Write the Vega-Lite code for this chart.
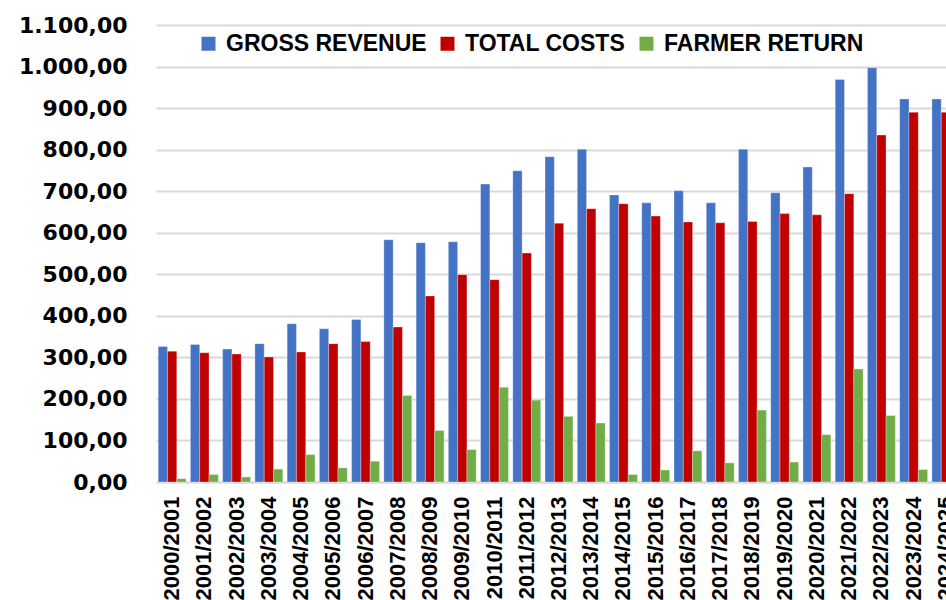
{
  "$schema": "https://vega.github.io/schema/vega-lite/v6.json",
  "autosize": {"type": "none"},
  "padding": {"left": 156, "top": 25, "right": 0, "bottom": 118},
  "width": 806,
  "height": 457,
  "background": "white",
  "data": {
    "values": [
      {"season": "2000/2001", "series": "GROSS REVENUE", "value": 326},
      {"season": "2000/2001", "series": "TOTAL COSTS", "value": 315},
      {"season": "2000/2001", "series": "FARMER RETURN", "value": 8},
      {"season": "2001/2002", "series": "GROSS REVENUE", "value": 331},
      {"season": "2001/2002", "series": "TOTAL COSTS", "value": 311},
      {"season": "2001/2002", "series": "FARMER RETURN", "value": 18},
      {"season": "2002/2003", "series": "GROSS REVENUE", "value": 320},
      {"season": "2002/2003", "series": "TOTAL COSTS", "value": 308},
      {"season": "2002/2003", "series": "FARMER RETURN", "value": 12},
      {"season": "2003/2004", "series": "GROSS REVENUE", "value": 333},
      {"season": "2003/2004", "series": "TOTAL COSTS", "value": 301},
      {"season": "2003/2004", "series": "FARMER RETURN", "value": 31},
      {"season": "2004/2005", "series": "GROSS REVENUE", "value": 381},
      {"season": "2004/2005", "series": "TOTAL COSTS", "value": 313},
      {"season": "2004/2005", "series": "FARMER RETURN", "value": 66},
      {"season": "2005/2006", "series": "GROSS REVENUE", "value": 369},
      {"season": "2005/2006", "series": "TOTAL COSTS", "value": 333},
      {"season": "2005/2006", "series": "FARMER RETURN", "value": 34},
      {"season": "2006/2007", "series": "GROSS REVENUE", "value": 391},
      {"season": "2006/2007", "series": "TOTAL COSTS", "value": 338},
      {"season": "2006/2007", "series": "FARMER RETURN", "value": 50},
      {"season": "2007/2008", "series": "GROSS REVENUE", "value": 583},
      {"season": "2007/2008", "series": "TOTAL COSTS", "value": 373},
      {"season": "2007/2008", "series": "FARMER RETURN", "value": 208},
      {"season": "2008/2009", "series": "GROSS REVENUE", "value": 576},
      {"season": "2008/2009", "series": "TOTAL COSTS", "value": 448},
      {"season": "2008/2009", "series": "FARMER RETURN", "value": 124},
      {"season": "2009/2010", "series": "GROSS REVENUE", "value": 578},
      {"season": "2009/2010", "series": "TOTAL COSTS", "value": 499},
      {"season": "2009/2010", "series": "FARMER RETURN", "value": 78},
      {"season": "2010/2011", "series": "GROSS REVENUE", "value": 717},
      {"season": "2010/2011", "series": "TOTAL COSTS", "value": 487},
      {"season": "2010/2011", "series": "FARMER RETURN", "value": 228},
      {"season": "2011/2012", "series": "GROSS REVENUE", "value": 749},
      {"season": "2011/2012", "series": "TOTAL COSTS", "value": 551},
      {"season": "2011/2012", "series": "FARMER RETURN", "value": 197},
      {"season": "2012/2013", "series": "GROSS REVENUE", "value": 783},
      {"season": "2012/2013", "series": "TOTAL COSTS", "value": 623},
      {"season": "2012/2013", "series": "FARMER RETURN", "value": 158},
      {"season": "2013/2014", "series": "GROSS REVENUE", "value": 801},
      {"season": "2013/2014", "series": "TOTAL COSTS", "value": 658},
      {"season": "2013/2014", "series": "FARMER RETURN", "value": 142},
      {"season": "2014/2015", "series": "GROSS REVENUE", "value": 691},
      {"season": "2014/2015", "series": "TOTAL COSTS", "value": 670},
      {"season": "2014/2015", "series": "FARMER RETURN", "value": 18},
      {"season": "2015/2016", "series": "GROSS REVENUE", "value": 672},
      {"season": "2015/2016", "series": "TOTAL COSTS", "value": 640},
      {"season": "2015/2016", "series": "FARMER RETURN", "value": 29},
      {"season": "2016/2017", "series": "GROSS REVENUE", "value": 701},
      {"season": "2016/2017", "series": "TOTAL COSTS", "value": 626},
      {"season": "2016/2017", "series": "FARMER RETURN", "value": 75},
      {"season": "2017/2018", "series": "GROSS REVENUE", "value": 672},
      {"season": "2017/2018", "series": "TOTAL COSTS", "value": 624},
      {"season": "2017/2018", "series": "FARMER RETURN", "value": 46},
      {"season": "2018/2019", "series": "GROSS REVENUE", "value": 801},
      {"season": "2018/2019", "series": "TOTAL COSTS", "value": 627},
      {"season": "2018/2019", "series": "FARMER RETURN", "value": 173},
      {"season": "2019/2020", "series": "GROSS REVENUE", "value": 696},
      {"season": "2019/2020", "series": "TOTAL COSTS", "value": 646},
      {"season": "2019/2020", "series": "FARMER RETURN", "value": 48},
      {"season": "2020/2021", "series": "GROSS REVENUE", "value": 758},
      {"season": "2020/2021", "series": "TOTAL COSTS", "value": 643},
      {"season": "2020/2021", "series": "FARMER RETURN", "value": 114},
      {"season": "2021/2022", "series": "GROSS REVENUE", "value": 969},
      {"season": "2021/2022", "series": "TOTAL COSTS", "value": 694},
      {"season": "2021/2022", "series": "FARMER RETURN", "value": 272},
      {"season": "2022/2023", "series": "GROSS REVENUE", "value": 997},
      {"season": "2022/2023", "series": "TOTAL COSTS", "value": 835},
      {"season": "2022/2023", "series": "FARMER RETURN", "value": 160},
      {"season": "2023/2024", "series": "GROSS REVENUE", "value": 922},
      {"season": "2023/2024", "series": "TOTAL COSTS", "value": 890},
      {"season": "2023/2024", "series": "FARMER RETURN", "value": 30},
      {"season": "2024/2025", "series": "GROSS REVENUE", "value": 922},
      {"season": "2024/2025", "series": "TOTAL COSTS", "value": 890},
      {"season": "2024/2025", "series": "FARMER RETURN", "value": 31}
    ]
  },
  "mark": {"type": "bar", "stroke": "white", "strokeOpacity": 0.3, "strokeWidth": 1},
  "encoding": {
    "x": {
      "field": "season",
      "type": "nominal",
      "sort": null,
      "title": null,
      "scale": {"paddingInner": 0.135, "paddingOuter": 0.0675},
      "axis": {
        "labelAngle": -90,
        "labelFont": "Liberation Sans",
        "labelFontWeight": "bold",
        "labelFontSize": 22,
        "labelColor": "black",
        "labelPadding": 14,
        "labelOverlap": false,
        "labelLimit": 300,
        "ticks": false,
        "domainColor": "#d9d9d9",
        "domainWidth": 2,
        "grid": false
      }
    },
    "xOffset": {
      "field": "series",
      "type": "nominal",
      "sort": ["GROSS REVENUE", "TOTAL COSTS", "FARMER RETURN"],
      "scale": {"paddingInner": 0, "paddingOuter": 0}
    },
    "y": {
      "field": "value",
      "type": "quantitative",
      "title": null,
      "scale": {"domain": [0, 1100], "nice": false},
      "axis": {
        "values": [0, 100, 200, 300, 400, 500, 600, 700, 800, 900, 1000, 1100],
        "format": ",.2f",
        "labelFont": "DejaVu Sans",
        "labelFontWeight": "bold",
        "labelFontSize": 22,
        "labelColor": "black",
        "labelPadding": 29,
        "ticks": false,
        "domain": false,
        "gridColor": "#d9d9d9",
        "gridWidth": 2
      }
    },
    "color": {
      "field": "series",
      "type": "nominal",
      "sort": ["GROSS REVENUE", "TOTAL COSTS", "FARMER RETURN"],
      "scale": {
        "domain": ["GROSS REVENUE", "TOTAL COSTS", "FARMER RETURN"],
        "range": ["#4472C4", "#C00000", "#70AD47"]
      },
      "legend": {
        "title": null,
        "orient": "none",
        "legendX": 41,
        "legendY": 7,
        "direction": "horizontal",
        "symbolType": "square",
        "symbolSize": 196,
        "symbolStrokeWidth": 0,
        "labelFont": "Liberation Sans",
        "labelFontWeight": "bold",
        "labelFontSize": 23,
        "labelColor": "black",
        "labelLimit": 400,
        "labelOffset": 6,
        "columnPadding": 9
      }
    }
  },
  "config": {
    "view": {"stroke": null},
    "locale": {
      "number": {"decimal": ",", "thousands": ".", "grouping": [3], "currency": ["", ""]}
    }
  }
}
